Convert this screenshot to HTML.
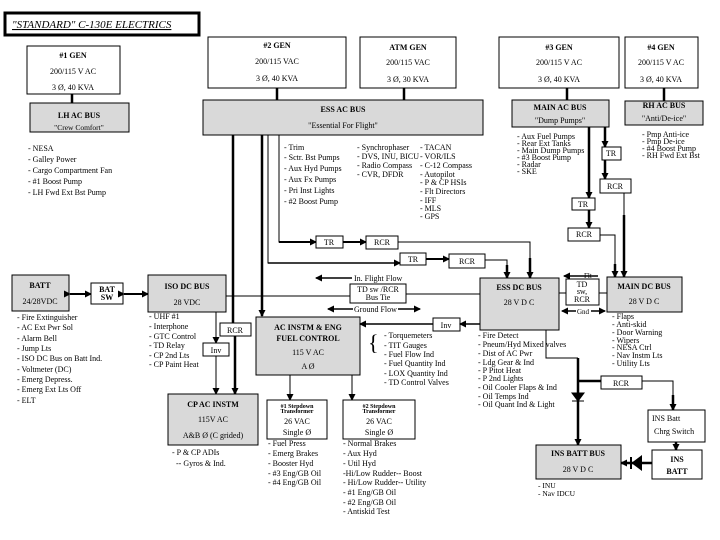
<!DOCTYPE html>
<html><head><meta charset="utf-8"><style>
body{margin:0;background:#fff;width:720px;height:540px;overflow:hidden}
svg{display:block}
text{font-family:"Liberation Serif",serif;font-size:8px;fill:#000}
.b{font-weight:bold}
.g{fill:#d9d9d9;stroke:#000;stroke-width:1}
.w{fill:#fff;stroke:#000;stroke-width:1}
.l{stroke:#000;stroke-width:1;fill:none}
.t{stroke:#000;stroke-width:2.5;fill:none}
</style></head><body>
<svg width="720" height="540" viewBox="0 0 720 540">
<defs><marker id="a" markerUnits="userSpaceOnUse" markerWidth="7" markerHeight="7" refX="6" refY="3.5" orient="auto"><path d="M0,0L7,3.5L0,7z" fill="#000"/></marker></defs>
<!-- title -->
<rect x="5" y="13" width="194" height="22" fill="#fff" stroke="#000" stroke-width="3"/>
<text x="12" y="28" font-style="italic" text-decoration="underline" style="font-size:11px">"STANDARD" C-130E ELECTRICS</text>
<!-- gens -->
<rect class="w" x="27" y="46" width="93" height="48"/>
<text class="b" x="73" y="58" text-anchor="middle">#1 GEN</text><text x="73" y="74" text-anchor="middle">200/115 V AC</text><text x="73" y="90" text-anchor="middle">3 Ø, 40 KVA</text>
<rect class="w" x="208" y="37" width="138" height="51"/>
<text class="b" x="277" y="48" text-anchor="middle">#2 GEN</text><text x="277" y="64" text-anchor="middle">200/115 VAC</text><text x="277" y="81" text-anchor="middle">3 Ø, 40 KVA</text>
<rect class="w" x="360" y="37" width="96" height="51"/>
<text class="b" x="408" y="50" text-anchor="middle">ATM GEN</text><text x="408" y="65" text-anchor="middle">200/115 VAC</text><text x="408" y="82" text-anchor="middle">3 Ø, 30 KVA</text>
<rect class="w" x="499" y="37" width="120" height="51"/>
<text class="b" x="559" y="50" text-anchor="middle">#3 GEN</text><text x="559" y="65" text-anchor="middle">200/115 V AC</text><text x="559" y="82" text-anchor="middle">3 Ø, 40 KVA</text>
<rect class="w" x="625" y="37" width="73" height="51"/>
<text class="b" x="661" y="50" text-anchor="middle">#4 GEN</text><text x="661" y="65" text-anchor="middle">200/115 V AC</text><text x="661" y="82" text-anchor="middle">3 Ø, 40 KVA</text>
<!-- gen to bus -->
<line class="t" x1="72" y1="94" x2="72" y2="103"/><line class="t" x1="277" y1="88" x2="277" y2="100"/>
<line class="t" x1="404" y1="88" x2="404" y2="100"/><line class="t" x1="567" y1="88" x2="567" y2="100"/>
<line class="t" x1="664" y1="88" x2="664" y2="101"/>
<!-- AC buses -->
<rect class="g" x="30" y="103" width="99" height="29"/>
<text class="b" x="79" y="118" text-anchor="middle">LH AC BUS</text><text x="79" y="130" text-anchor="middle" style="font-size:7.5px">"Crew Comfort"</text>
<rect class="g" x="203" y="100" width="280" height="35"/>
<text class="b" x="343" y="112" text-anchor="middle">ESS AC BUS</text><text x="343" y="128" text-anchor="middle">"Essential For Flight"</text>
<rect class="g" x="512" y="100" width="97" height="27"/>
<text class="b" x="560" y="110" text-anchor="middle">MAIN AC BUS</text><text x="560" y="123" text-anchor="middle">"Dump Pumps"</text>
<rect class="g" x="625" y="101" width="78" height="24"/>
<text class="b" x="664" y="108" text-anchor="middle">RH AC BUS</text><text x="664" y="121" text-anchor="middle">"Anti/De-ice"</text>
<!-- lists -->
<g>
<text x="28" y="151">- NESA</text><text x="28" y="162">- Galley Power</text><text x="28" y="173">- Cargo Compartment Fan</text><text x="28" y="184">- #1 Boost Pump</text><text x="28" y="195">- LH Fwd Ext Bst Pump</text>
<text x="284" y="150">- Trim</text><text x="284" y="160">- Sctr. Bst Pumps</text><text x="284" y="171">- Aux Hyd Pumps</text><text x="284" y="182">- Aux Fx Pumps</text><text x="284" y="193">- Pri Inst Lights</text><text x="284" y="204">- #2 Boost Pump</text>
<text x="357" y="150">- Synchrophaser</text><text x="357" y="159">- DVS, INU, BICU</text><text x="357" y="168">- Radio Compass</text><text x="357" y="177">- CVR, DFDR</text>
<text x="420" y="150">- TACAN</text><text x="420" y="159">- VOR/ILS</text><text x="420" y="168">- C-12 Compass</text><text x="420" y="177">- Autopilot</text><text x="420" y="185">- P &amp; CP HSIs</text><text x="420" y="194">- Flt Directors</text><text x="420" y="203">- IFF</text><text x="420" y="211">- MLS</text><text x="420" y="219">- GPS</text>
</g>
<g style="font-size:7px">
<text x="517" y="139">- Aux Fuel Pumps</text><text x="517" y="146">- Rear Ext Tanks</text><text x="517" y="153">- Main Dump Pumps</text><text x="517" y="160">- #3 Boost Pump</text><text x="517" y="167">- Radar</text><text x="517" y="174">- SKE</text>
<text x="642" y="137">- Pmp Anti-ice</text><text x="642" y="144">- Pmp De-ice</text><text x="642" y="151">- #4 Boost Pump</text><text x="642" y="158">- RH Fwd Ext Bst</text>
</g>
<!-- ESS AC down lines -->
<line class="t" x1="233" y1="135" x2="233" y2="323"/>
<line class="t" x1="262" y1="135" x2="262" y2="316" marker-end="url(#a)"/>
<polyline class="l" points="268,135 268,263 397,263"/>
<polyline class="l" points="279,135 279,242 313,242"/>
<line x1="279" y1="242" x2="316" y2="242" stroke="#000" stroke-width="2" marker-end="url(#a)"/>
<line x1="268" y1="263" x2="400" y2="263" stroke="#000" stroke-width="1.5" marker-end="url(#a)"/>
<rect class="w" x="316" y="236" width="27" height="12"/><text x="329" y="245" text-anchor="middle">TR</text>
<line x1="343" y1="242" x2="366" y2="242" stroke="#000" stroke-width="2" marker-end="url(#a)"/>
<rect class="w" x="366" y="236" width="32" height="13"/><text x="382" y="245" text-anchor="middle">RCR</text>
<polyline class="l" points="398,242 530,242 530,262"/>
<line class="t" x1="530" y1="258" x2="530" y2="278" marker-end="url(#a)"/>
<rect class="w" x="400" y="253" width="26" height="12"/><text x="413" y="262" text-anchor="middle">TR</text>
<line x1="426" y1="259" x2="449" y2="259" stroke="#000" stroke-width="2" marker-end="url(#a)"/>
<rect class="w" x="449" y="254" width="36" height="14"/><text x="467" y="264" text-anchor="middle">RCR</text>
<polyline class="l" points="485,260 507,260 507,268"/>
<line class="t" x1="507" y1="265" x2="507" y2="278" marker-end="url(#a)"/>
<!-- Main AC lines -->
<line class="t" x1="605" y1="127" x2="605" y2="147" marker-end="url(#a)"/>
<rect class="w" x="602" y="147" width="19" height="13"/><text x="611" y="156" text-anchor="middle">TR</text>
<line class="t" x1="605" y1="160" x2="605" y2="179" marker-end="url(#a)"/>
<rect class="w" x="600" y="179" width="31" height="14"/><text x="615" y="189" text-anchor="middle">RCR</text>
<line class="l" x1="624" y1="193" x2="624" y2="215"/><line class="t" x1="624" y1="215" x2="624" y2="277" marker-end="url(#a)"/>
<line class="t" x1="589" y1="127" x2="589" y2="198" marker-end="url(#a)"/>
<rect class="w" x="572" y="198" width="23" height="12"/><text x="583" y="207" text-anchor="middle">TR</text>
<line class="t" x1="589" y1="210" x2="589" y2="228" marker-end="url(#a)"/>
<rect class="w" x="568" y="228" width="32" height="13"/><text x="584" y="237" text-anchor="middle">RCR</text>
<polyline class="l" points="600,235 615,235 615,268"/>
<line class="t" x1="615" y1="264" x2="615" y2="277" marker-end="url(#a)"/>
<!-- BATT row -->
<rect class="g" x="12" y="275" width="57" height="36"/>
<text class="b" x="40" y="288" text-anchor="middle">BATT</text><text x="40" y="304" text-anchor="middle">24/28VDC</text>
<line x1="70" y1="294" x2="91" y2="294" stroke="#000" stroke-width="2" marker-end="url(#a)" marker-start="url(#a)"/>
<rect class="w" x="91" y="283" width="32" height="21"/>
<text class="b" x="107" y="292" text-anchor="middle">BAT</text><text class="b" x="107" y="300" text-anchor="middle">SW</text>
<line x1="124" y1="294" x2="148" y2="294" stroke="#000" stroke-width="2" marker-end="url(#a)" marker-start="url(#a)"/>
<rect class="g" x="148" y="275" width="78" height="37"/>
<text class="b" x="187" y="289" text-anchor="middle">ISO DC BUS</text><text x="187" y="305" text-anchor="middle">28 VDC</text>
<g style="font-size:7.5px">
<text x="17" y="320">- Fire Extinguisher</text><text x="17" y="330">- AC Ext Pwr Sol</text><text x="17" y="341">- Alarm Bell</text><text x="17" y="351">- Jump Lts</text><text x="17" y="361">- ISO DC Bus on Batt Ind.</text><text x="17" y="372">- Voltmeter (DC)</text><text x="17" y="382">- Emerg Depress.</text><text x="17" y="392">- Emerg Ext Lts Off</text><text x="17" y="403">- ELT</text>
<text x="149" y="319">- UHF #1</text><text x="149" y="329">- Interphone</text><text x="149" y="339">- GTC Control</text><text x="149" y="348">- TD Relay</text><text x="149" y="358">- CP 2nd Lts</text><text x="149" y="367">- CP Paint Heat</text>
</g>
<!-- ISO bus tie line -->
<line class="l" x1="226" y1="296" x2="350" y2="296"/>
<rect class="w" x="350" y="284" width="56" height="19"/>
<text x="378" y="292" text-anchor="middle">TD sw /RCR</text><text x="378" y="300" text-anchor="middle">Bus Tie</text>
<line class="l" x1="406" y1="294" x2="480" y2="294"/>
<line x1="352" y1="278" x2="316" y2="278" stroke="#000" stroke-width="1.5" marker-end="url(#a)"/>
<text x="354" y="281">In. Flight Flow</text>
<line x1="353" y1="309" x2="328" y2="309" stroke="#000" stroke-width="1.5" marker-end="url(#a)"/>
<text x="354" y="312">Ground Flow</text>
<line x1="398" y1="309" x2="420" y2="309" stroke="#000" stroke-width="1.5" marker-end="url(#a)"/>
<!-- ISO to CP AC -->
<line class="l" x1="216" y1="312" x2="216" y2="343" marker-end="url(#a)"/>
<rect class="w" x="203" y="343" width="26" height="13"/><text x="216" y="353" text-anchor="middle">Inv</text>
<line class="l" x1="216" y1="356" x2="216" y2="394" marker-end="url(#a)"/>
<rect class="w" x="220" y="323" width="31" height="13"/><text x="235" y="333" text-anchor="middle">RCR</text>
<line class="t" x1="235" y1="336" x2="235" y2="394" marker-end="url(#a)"/>
<rect class="g" x="168" y="394" width="90" height="51"/>
<text class="b" x="213" y="407" text-anchor="middle">CP AC INSTM</text><text x="213" y="422" text-anchor="middle">115V AC</text><text x="213" y="438" text-anchor="middle">A&amp;B Ø (C grided)</text>
<text x="172" y="455">- P &amp; CP ADIs</text><text x="176" y="466">-- Gyros &amp; Ind.</text>
<!-- AC instm -->
<rect class="g" x="256" y="317" width="104" height="58"/>
<text class="b" x="308" y="330" text-anchor="middle">AC INSTM &amp; ENG</text><text class="b" x="308" y="341" text-anchor="middle">FUEL CONTROL</text>
<text x="308" y="355" text-anchor="middle">115 V AC</text><text x="308" y="369" text-anchor="middle">A Ø</text>
<line x1="433" y1="324" x2="360" y2="324" stroke="#000" stroke-width="1.5" marker-end="url(#a)"/>
<rect class="w" x="433" y="318" width="27" height="13"/><text x="446" y="328" text-anchor="middle">Inv</text>
<line x1="480" y1="324" x2="460" y2="324" stroke="#000" stroke-width="1.5" marker-end="url(#a)"/>
<text x="368" y="350" style="font-size:22px">{</text>
<g style="font-size:7.5px">
<text x="384" y="338">- Torquemeters</text><text x="384" y="348">- TIT Gauges</text><text x="384" y="357">- Fuel Flow Ind</text><text x="384" y="366">- Fuel Quantity Ind</text><text x="384" y="376">- LOX Quantity Ind</text><text x="384" y="385">- TD Control Valves</text>
</g>
<line class="l" x1="290" y1="375" x2="290" y2="400" marker-end="url(#a)"/>
<line class="l" x1="352" y1="375" x2="352" y2="400" marker-end="url(#a)"/>
<rect class="w" x="267" y="400" width="60" height="39"/>
<text class="b" x="297" y="408" text-anchor="middle" style="font-size:6px">#1 Stepdown</text><text class="b" x="297" y="413" text-anchor="middle" style="font-size:6px">Transformer</text>
<text x="297" y="424" text-anchor="middle">26 VAC</text><text x="297" y="435" text-anchor="middle">Single Ø</text>
<rect class="w" x="343" y="400" width="72" height="39"/>
<text class="b" x="379" y="408" text-anchor="middle" style="font-size:6px">#2 Stepdown</text><text class="b" x="379" y="413" text-anchor="middle" style="font-size:6px">Transformer</text>
<text x="379" y="424" text-anchor="middle">26 VAC</text><text x="379" y="435" text-anchor="middle">Single Ø</text>
<g style="font-size:7.5px">
<text x="268" y="446">- Fuel Press</text><text x="268" y="456">- Emerg Brakes</text><text x="268" y="466">- Booster Hyd</text><text x="268" y="476">- #3 Eng/GB Oil</text><text x="268" y="485">- #4 Eng/GB Oil</text>
<text x="343" y="446">- Normal Brakes</text><text x="343" y="456">- Aux Hyd</text><text x="343" y="466">- Util Hyd</text><text x="343" y="476">-Hi/Low Rudder-- Boost</text><text x="343" y="485">- Hi/Low Rudder-- Utility</text><text x="343" y="495">- #1 Eng/GB Oil</text><text x="343" y="505">- #2 Eng/GB Oil</text><text x="343" y="514">- Antiskid Test</text>
</g>
<!-- ESS DC / MAIN DC -->
<rect class="g" x="480" y="278" width="79" height="52"/>
<text class="b" x="519" y="290" text-anchor="middle">ESS DC BUS</text><text x="519" y="305" text-anchor="middle">28 V D C</text>
<line class="l" x1="559" y1="293" x2="566" y2="293"/>
<rect class="w" x="566" y="279" width="33" height="26"/>
<text x="582" y="287" text-anchor="middle">TD</text><text x="582" y="294" text-anchor="middle">sw,</text><text x="582" y="302" text-anchor="middle">RCR</text>
<line class="l" x1="599" y1="293" x2="607" y2="293"/>
<line x1="598" y1="276" x2="564" y2="276" stroke="#000" stroke-width="1.5" marker-end="url(#a)"/><text x="584" y="278" style="font-size:7px">Flt</text>
<line x1="576" y1="311" x2="562" y2="311" stroke="#000" stroke-width="1.5" marker-end="url(#a)"/><text x="577" y="314" style="font-size:7px">Gnd</text>
<line x1="591" y1="311" x2="605" y2="311" stroke="#000" stroke-width="1.5" marker-end="url(#a)"/>
<rect class="g" x="607" y="277" width="75" height="35"/>
<text class="b" x="644" y="289" text-anchor="middle">MAIN DC BUS</text><text x="644" y="304" text-anchor="middle">28 V D C</text>
<g style="font-size:7.5px">
<text x="478" y="338">- Fire Detect</text><text x="478" y="347">- Pneum/Hyd Mixed valves</text><text x="478" y="356">- Dist of AC Pwr</text><text x="478" y="365">- Ldg Gear &amp; Ind</text><text x="478" y="373">- P Pitot Heat</text><text x="478" y="381">- P 2nd Lights</text><text x="478" y="390">- Oil Cooler Flaps &amp; Ind</text><text x="478" y="399">- Oil Temps Ind</text><text x="478" y="407">- Oil Quant Ind &amp; Light</text>
<text x="612" y="319">- Flaps</text><text x="612" y="327">- Anti-skid</text><text x="612" y="335">- Door Warning</text><text x="612" y="343">- Wipers</text><text x="612" y="350">- NESA Ctrl</text><text x="612" y="358">- Nav Instm Lts</text><text x="612" y="366">- Utility Lts</text>
</g>
<!-- INS -->
<polyline class="l" points="546,330 546,358 578,358"/>
<line class="t" x1="578" y1="358" x2="578" y2="445" marker-end="url(#a)"/>
<line class="t" x1="578" y1="381" x2="601" y2="381"/>
<path d="M572,393 L584,393 L578,401z M572,401 L584,401" stroke="#000" fill="#000"/>
<rect class="w" x="601" y="376" width="41" height="13"/><text x="621" y="386" text-anchor="middle">RCR</text>
<polyline class="l" points="642,381 673,381 673,398"/>
<line class="t" x1="673" y1="395" x2="673" y2="410" marker-end="url(#a)"/>
<rect class="w" x="648" y="410" width="57" height="32"/>
<text x="652" y="421">INS Batt</text><text x="654" y="434">Chrg Switch</text>
<line class="t" x1="676" y1="442" x2="676" y2="450" marker-end="url(#a)"/>
<rect class="w" x="652" y="450" width="50" height="29"/>
<text class="b" x="677" y="462" text-anchor="middle">INS</text><text class="b" x="677" y="474" text-anchor="middle">BATT</text>
<line class="t" x1="652" y1="463" x2="621" y2="463" marker-end="url(#a)"/>
<path d="M641,457 L641,469 L633,463z M631,457 L631,469" stroke="#000" stroke-width="2" fill="#000"/>
<rect class="g" x="536" y="445" width="85" height="34"/>
<text class="b" x="578" y="456" text-anchor="middle">INS BATT BUS</text><text x="578" y="472" text-anchor="middle">28 V D C</text>
<text x="538" y="488" style="font-size:7.5px">- INU</text><text x="538" y="496" style="font-size:7.5px">- Nav IDCU</text>
</svg>
</body></html>
